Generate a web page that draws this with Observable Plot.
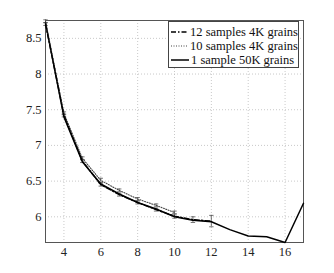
<!DOCTYPE html>
<html><head><meta charset="utf-8">
<script src="https://cdn.jsdelivr.net/npm/d3@7"></script>
<script src="https://cdn.jsdelivr.net/npm/@observablehq/plot@0.6"></script>
<style>
body{margin:0;background:#fff;}
#wrap{position:relative;width:334px;height:273px;}
#legend{position:absolute;left:168px;top:21px;width:131px;height:47px;border:1px solid #444;background:#fff;font-family:'Liberation Serif';font-size:12.5px;line-height:14.3px;padding-top:2.5px;box-sizing:border-box;color:#111;}
#legend div{display:flex;align-items:center;white-space:nowrap;}
#legend svg{margin:0 2px 0 2px;}
svg text{font-family:'Liberation Serif';}
</style></head>
<body><div id="wrap"><div id="legend"></div></div>
<script>
const seriesNames = ["12 samples 4K grains", "10 samples 4K grains", "1 sample 50K grains"];

const xs12 = [3, 4, 5, 6, 7, 8, 9, 10, 11, 12];
const ys12 = [8.70, 7.42, 6.78, 6.45, 6.31, 6.20, 6.10, 6.01, 5.96, 5.94];
const err12 = [0.02, 0.02, 0.02, 0.02, 0.02, 0.02, 0.02, 0.03, 0.04, 0.08];

const xs10 = [3, 4, 5, 6, 7, 8, 9, 10];
const ys10 = [8.74, 7.45, 6.82, 6.51, 6.37, 6.25, 6.16, 6.06];
const err10 = [0.02, 0.02, 0.02, 0.03, 0.02, 0.02, 0.02, 0.02];

const xs1 = [3, 4, 5, 6, 7, 8, 9, 10, 11, 12, 13, 14, 15, 16, 17];
const ys1 = [8.72, 7.40, 6.77, 6.46, 6.32, 6.20, 6.11, 6.00, 5.95, 5.93, 5.82, 5.73, 5.72, 5.64, 6.19];

const xTicks = [4, 6, 8, 10, 12, 14, 16];
const yTicks = [6, 6.5, 7, 7.5, 8, 8.5];

const d12 = xs12.map((x, i) => ({x, y: ys12[i], e: err12[i]}));
const d10 = xs10.map((x, i) => ({x, y: ys10[i], e: err10[i]}));
const d1 = xs1.map((x, i) => ({x, y: ys1[i]}));

const styles = [
  {stroke: "#000", strokeWidth: 1.4, strokeDasharray: "5,2,1.5,2"},
  {stroke: "#444", strokeWidth: 1.1, strokeDasharray: "1,1.5"},
  {stroke: "#000", strokeWidth: 1.5, strokeDasharray: null}
];

function errMarks(data) {
  return [
    Plot.ruleX(data, {x: "x", y1: d => d.y - d.e, y2: d => d.y + d.e, stroke: "#555", strokeWidth: 0.8}),
    Plot.link(data, {x1: d => d.x - 0.12, x2: d => d.x + 0.12, y1: d => d.y - d.e, y2: d => d.y - d.e, stroke: "#555", strokeWidth: 0.8}),
    Plot.link(data, {x1: d => d.x - 0.12, x2: d => d.x + 0.12, y1: d => d.y + d.e, y2: d => d.y + d.e, stroke: "#555", strokeWidth: 0.8})
  ];
}

const chart = Plot.plot({
  width: 334, height: 273,
  marginLeft: 45, marginRight: 31, marginTop: 20, marginBottom: 31,
  style: {fontFamily: "Liberation Serif", fontSize: "12.5px", color: "#222", background: "#fff"},
  x: {domain: [3, 17], ticks: xTicks, tickSize: 0, tickPadding: 5, label: null},
  y: {domain: [5.64, 8.75], ticks: yTicks, tickSize: 0, tickPadding: 4, label: null, tickFormat: d => String(d)},
  marks: [
    Plot.gridX(xTicks, {stroke: "#bbb", strokeOpacity: 1, strokeDasharray: "1,2", strokeWidth: 0.8}),
    Plot.gridY(yTicks, {stroke: "#bbb", strokeOpacity: 1, strokeDasharray: "1,2", strokeWidth: 0.8}),
    Plot.frame({stroke: "#555", strokeWidth: 1}),
    ...errMarks(d10),
    ...errMarks(d12),
    Plot.line(d1, {x: "x", y: "y", ...styles[2]}),
    Plot.line(d10, {x: "x", y: "y", ...styles[1]}),
    Plot.line(d12, {x: "x", y: "y", ...styles[0]})
  ]
});
const wrap = document.getElementById("wrap");
wrap.insertBefore(chart, wrap.firstChild);

const leg = document.getElementById("legend");
seriesNames.forEach((name, i) => {
  const row = document.createElement("div");
  const st = styles[i];
  row.innerHTML = `<svg width="18" height="10"><line x1="0" y1="5" x2="18" y2="5" stroke="${st.stroke}" stroke-width="${st.strokeWidth}" ${st.strokeDasharray ? `stroke-dasharray="${st.strokeDasharray}"` : ""}/></svg><span>${name}</span>`;
  leg.appendChild(row);
});
</script></body></html>
